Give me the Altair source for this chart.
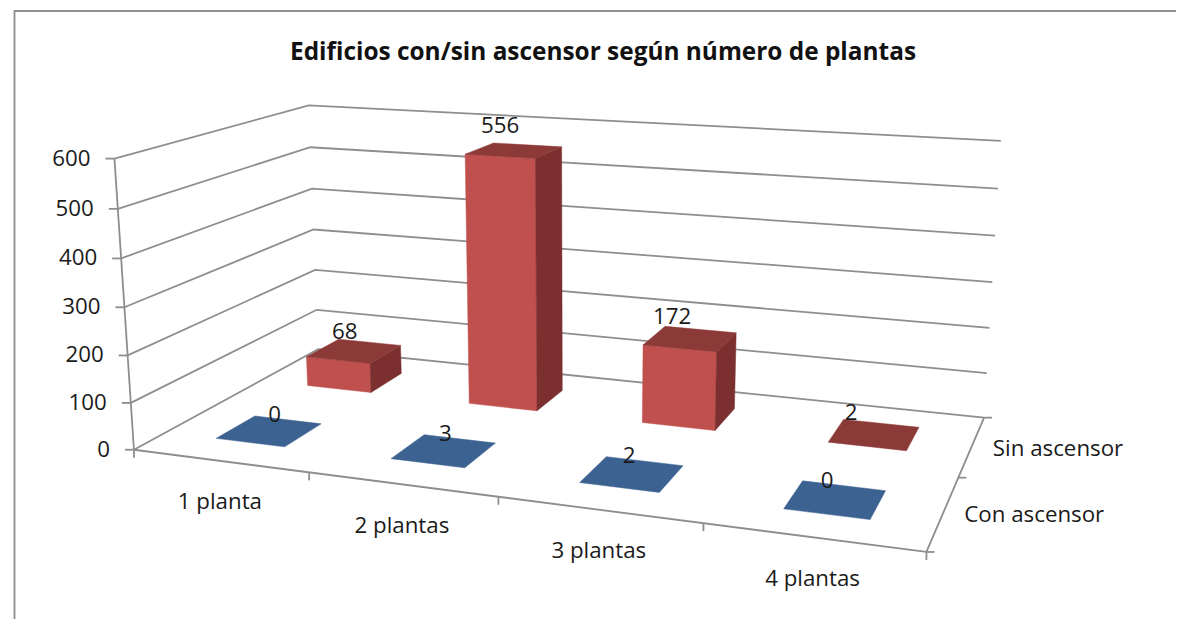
import altair as alt
import numpy as np
import pandas as pd

# ---- chart values -------------------------------------------------------
TITLE = "Edificios con/sin ascensor según número de plantas"
categorias = ["1 planta", "2 plantas", "3 plantas", "4 plantas"]
series = ["Con ascensor", "Sin ascensor"]
con_ascensor = [0, 3, 2, 0]
sin_ascensor = [68, 556, 172, 2]
ticks = [0, 100, 200, 300, 400, 500, 600]

# ---- camera: world (category, series, value) -> page pixels (DLT fit) -----
world_pts = [(0, 0, 0), (0, 0, 600), (0, 2, 100), (0, 2, 600), (4, 0, 0),
             (4, 2, 0), (4, 2, 600), (4, 1, 0), (1, 0, 0), (2, 0, 0), (0, 2, 0), (4, 2, 300)]
page_pts = [(134.3, 448.5), (115, 158.3), (316.7, 310), (308.3, 105), (926.7, 551),
            (984, 417.5), (1001, 141), (959, 476.7), (309, 475), (497, 497), (318.5, 349), (992, 283)]


def fit_camera():
    rows = []
    for (u, v, w), (px, py) in zip(world_pts, page_pts):
        X = [u, v, w / 100, 1]
        rows.append(X + [0, 0, 0, 0] + [-px * c for c in X])
        rows.append([0, 0, 0, 0] + X + [-py * c for c in X])
    _, _, vt = np.linalg.svd(np.array(rows, float))
    return vt[-1].reshape(3, 4)


P = fit_camera()


def proj(u, v, w):
    h = P @ np.array([u, v, w / 100, 1.0])
    return float(h[0] / h[2]), float(h[1] / h[2])


BAR_A, BAR_B = 0.3, 0.7      # bar occupies this part of its category / series cell

# ---- geometry tables ------------------------------------------------------
lines = []


def add_line(name, pts):
    for i, (x, y) in enumerate(pts):
        lines.append({"id": name, "o": i, "px": x, "py": y})


add_line("frame", [(14.5, 640), (14.5, 11), (1190, 11)])
for t in ticks:
    add_line(f"grid{t}", [proj(0, 0, t), proj(0, 2, t), proj(4, 2, t)])
    x, y = proj(0, 0, t)
    add_line(f"ty{t}", [(x - 9, y), (x, y)])
add_line("axY", [proj(0, 0, 0), proj(0, 0, 600)])
add_line("axX", [proj(0, 0, 0), proj(4, 0, 0)])
add_line("axZ", [proj(4, 0, 0), proj(4, 2, 0)])
for i in range(5):
    x, y = proj(i, 0, 0)
    add_line(f"tx{i}", [(x, y), (x, y + 8)])
for s in range(3):
    x, y = proj(4, s, 0)
    add_line(f"tz{s}", [(x, y), (x + 8, y)])

faces = []


def add_face(name, color, pts):
    for i, (x, y) in enumerate(pts + pts[:1]):
        faces.append({"id": name, "o": i, "px": x, "py": y, "col": color})


PALETTE = [("#3C6291", "#3F6797", "#2F4E74"), ("#8C3A38", "#C0504D", "#7B2F2E")]
for s, vals in enumerate([con_ascensor, sin_ascensor]):
    top, front, side = PALETTE[s]
    for c, val in enumerate(vals):
        u0, u1 = c + BAR_A, c + BAR_B
        v0, v1 = s + BAR_A, s + BAR_B
        name = f"{s}-{c}"
        if val >= 10:
            add_face(name + "f", front, [proj(u0, v0, 0), proj(u1, v0, 0), proj(u1, v0, val), proj(u0, v0, val)])
            add_face(name + "s", side, [proj(u1, v0, 0), proj(u1, v1, 0), proj(u1, v1, val), proj(u1, v0, val)])
        add_face(name + "t", top, [proj(u0, v0, val), proj(u1, v0, val), proj(u1, v1, val), proj(u0, v1, val)])

ylabels = [{"t": str(t), "px": proj(0, 0, t)[0] - 24, "py": proj(0, 0, t)[1]} for t in ticks]
xlabels = [{"t": n, "px": proj(i + 0.5, 0, 0)[0], "py": proj(i + 0.5, 0, 0)[1] + 41.5} for i, n in enumerate(categorias)]
zlabels = [{"t": n, "px": proj(4, s + 0.5, 0)[0] + 21, "py": proj(4, s + 0.5, 0)[1] + 2.5} for s, n in enumerate(series)]
vlabels = []
for s, vals in enumerate([con_ascensor, sin_ascensor]):
    for c, val in enumerate(vals):
        anchor_u = c + (0.34 if s == 1 else 0.42)
        x, y = proj(anchor_u, s + BAR_B, val * 1.04)
        vlabels.append({"t": str(val), "px": x, "py": y - (7 if s == 1 else 3)})

# ---- chart ----------------------------------------------------------------
X = alt.X("px:Q", scale=alt.Scale(domain=[8, 1176], range=[0, 1168]), axis=None)
Y = alt.Y("py:Q", scale=alt.Scale(domain=[8, 619], range=[0, 611]), axis=None)

grid = alt.Chart(pd.DataFrame(lines)).mark_line(color="#8E8E8E", strokeWidth=1.8, clip=False).encode(
    x=X, y=Y, detail="id:N", order="o:Q")
bars = alt.Chart(pd.DataFrame(faces)).mark_line(strokeWidth=0.5, filled=True).encode(
    x=X, y=Y, detail="id:N", order="o:Q",
    fill=alt.Fill("col:N", scale=None, legend=None),
    stroke=alt.Stroke("col:N", scale=None, legend=None))


def text_layer(rows, align="center"):
    return alt.Chart(pd.DataFrame(rows)).mark_text(
        font="Open Sans", fontSize=22.3, color="#1a1a1a", align=align, baseline="middle").encode(
        x=X, y=Y, text="t:N")


chart = alt.layer(
    grid, bars,
    text_layer(ylabels, "right"), text_layer(xlabels), text_layer(zlabels, "left"), text_layer(vlabels),
).properties(
    width=1168, height=611, padding=0, background="white", autosize="none",
    title=alt.TitleParams(TITLE, font="Open Sans", fontSize=24.4, fontWeight="bold", color="#111111",
                          anchor="start", dx=282, offset=-58),
).configure_view(stroke=None)

chart.save("out.html", embed_options={"renderer": "svg", "actions": False})
